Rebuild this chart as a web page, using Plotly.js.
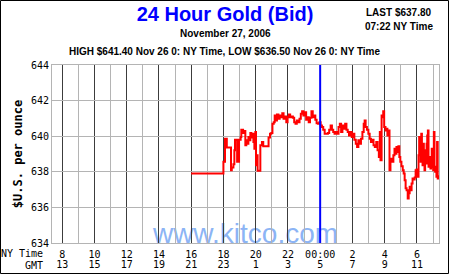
<!DOCTYPE html>
<html>
<head>
<meta charset="utf-8">
<script src="https://cdn.plot.ly/plotly-3.0.1.min.js"></script>
<style>html,body{margin:0;padding:0;background:#fff;}#chart{width:450px;height:275px;}</style>
</head>
<body>
<div id="chart"></div>
<script>
// NY time in hours since midnight Nov 26 (24 = 00:00 Nov 27)
const hours = [16.00,18.00,18.10,18.21,18.47,18.52,18.62,18.68,18.72,18.85,18.97,19.07,19.11,19.22,19.30,19.36,19.42,19.48,19.55,19.61,19.67,19.73,19.79,19.86,19.92,19.98,20.02,20.06,20.12,20.29,20.39,20.47,20.80,20.89,
20.97,21.04,21.12,21.18,21.24,21.32,21.41,21.49,21.57,21.65,21.73,21.82,21.90,21.98,22.06,22.14,22.23,22.31,22.39,22.47,22.55,22.64,22.72,22.80,22.88,22.96,23.05,23.13,23.21,23.29,23.37,23.46,23.54,23.62,23.70,23.78,23.87,23.95,
24.03,24.11,24.19,24.28,24.36,24.48,24.56,24.65,24.73,24.81,24.89,24.97,25.06,25.14,25.22,25.30,25.38,25.47,25.55,25.63,25.71,25.79,25.88,25.96,26.04,26.12,26.21,26.29,26.37,26.45,26.53,26.62,26.70,26.76,26.82,26.90,26.99,
27.07,27.15,27.23,27.31,27.39,27.48,27.56,27.64,27.70,27.74,27.81,27.87,27.91,27.97,28.05,28.11,28.17,28.24,28.30,28.36,28.42,28.48,28.54,28.61,28.67,28.73,28.79,28.85,28.91,28.97,29.04,29.12,29.18,29.24,29.30,29.36,29.43,
29.49,29.55,29.61,29.67,29.73,29.79,29.86,29.92,29.98,30.04,30.10,30.14,30.18,30.23,30.27,30.31,30.35,30.39,30.43,30.47,30.51,30.55,30.60,30.64,30.68,30.72,30.76,30.80,30.84,30.88,30.92,30.96,31.01,31.05,31.09,31.13,31.17,31.21,31.25,31.29,31.37];
const prices = [637.90,638.56,639.86,639.36,638.09,638.24,638.43,639.21,639.80,638.56,639.80,639.95,640.36,640.18,640.29,639.49,639.77,639.58,639.95,639.77,640.18,639.92,640.14,639.67,639.30,640.23,638.37,638.93,638.06,639.49,639.67,639.43,639.92,640.14,
640.18,640.70,640.79,641.16,640.88,641.22,640.98,641.16,641.07,641.29,640.98,641.11,640.79,641.07,641.22,641.07,641.11,641.03,640.79,640.70,640.88,640.79,640.98,641.26,641.40,641.16,641.35,640.92,641.07,640.79,641.03,641.40,641.07,641.16,640.92,640.73,640.70,640.79,
640.60,640.51,640.36,640.14,640.14,640.18,640.36,640.60,640.36,640.23,640.14,640.23,640.14,640.51,640.70,640.23,640.60,640.42,640.70,640.36,640.23,640.04,640.23,639.95,640.14,639.80,639.58,639.39,639.77,639.58,639.86,640.23,640.70,640.88,640.51,640.36,640.14,
639.86,639.67,639.80,639.49,639.39,639.67,639.21,638.83,640.23,638.65,641.16,641.07,641.40,640.51,640.32,640.42,640.04,640.32,638.09,638.56,638.74,638.56,638.93,639.30,639.02,639.39,639.11,639.43,638.83,638.56,638.31,638.09,637.90,637.53,637.07,636.97,636.50,
636.79,637.16,636.97,637.34,637.62,637.57,637.68,638.09,638.13,637.72,638.93,639.95,639.58,638.56,640.14,639.21,638.37,639.58,638.83,638.09,639.21,638.46,639.58,640.04,640.32,638.28,638.83,638.56,638.18,638.31,639.30,638.28,638.09,640.23,638.28,638.00,638.28,637.72,639.67,637.62,637.80];

const tickHours = [8,10,12,14,16,18,20,22,24,26,28,30];
const nyLabels  = ["8","10","12","14","16","18","20","22","00:00","2","4","6"];
const gmtLabels = ["13","15","17","19","21","23","1","3","5","7","9","11"];
const priceTicks = [634,636,638,640,642,644];
const hourRange = [7.37, 31.37];
const priceRange = [634, 644];
const midnight = 24;

const mono = "DejaVu Sans Mono, monospace";
const sans = "Liberation Sans, Arial, sans-serif";

const traces = [
  {x: hours, y: prices, type: 'scatter', mode: 'lines',
   line: {color: '#ff0000', width: 2, shape: 'hv'}, hoverinfo: 'skip', showlegend: false},
  {x: [], y: [], type: 'scatter', mode: 'lines', xaxis: 'x2', yaxis: 'y', showlegend: false, hoverinfo: 'skip'}
];

const layout = {
  width: 450, height: 275,
  margin: {l: 52, r: 11, t: 65, b: 32, pad: 0},
  paper_bgcolor: '#ffffff', plot_bgcolor: '#ffffff',
  showlegend: false,
  title: {text: '<b>24 Hour Gold (Bid)</b>', font: {family: sans, size: 20, color: '#0000ff'},
          xref: 'container', x: 0.5, xanchor: 'center', yref: 'container', y: 1 - 14/275, yanchor: 'middle'},
  xaxis: {range: hourRange, tickmode: 'array', tickvals: tickHours, ticktext: nyLabels,
          showgrid: true, gridcolor: '#3c3c3c', gridwidth: 1, zeroline: false,
          showline: true, mirror: true, linecolor: '#b4b4b4', linewidth: 1, ticks: '',
          tickfont: {family: mono, size: 10, color: '#000'}, ticklabelstandoff: 2,
          minor: {tickmode: 'linear', tick0: 0, dtick: 1, showgrid: true, gridcolor: '#b4b4b4', gridwidth: 1, ticks: ''},
          fixedrange: true},
  xaxis2: {range: hourRange, overlaying: 'x', anchor: 'y', side: 'bottom', tickmode: 'array',
           tickvals: tickHours, ticktext: gmtLabels, showgrid: false, zeroline: false, showline: false, ticks: '',
           tickfont: {family: mono, size: 10, color: '#000'}, ticklabelstandoff: 14, fixedrange: true},
  yaxis: {range: priceRange, tickmode: 'array', tickvals: priceTicks, showgrid: true, gridcolor: '#b4b4b4', gridwidth: 1,
          zeroline: false, showline: true, mirror: true, linecolor: '#b4b4b4', linewidth: 1, ticks: '',
          tickfont: {family: mono, size: 10, color: '#000'},
          title: {text: '<b>$U.S. per ounce</b>', font: {family: mono, size: 12, color: '#000'}, standoff: 5},
          fixedrange: true},
  shapes: [
    {type: 'rect', xref: 'paper', yref: 'paper', x0: 0.2, x1: 0.8, y0: -0.01, y1: 0.145,
     line: {width: 0}, fillcolor: 'rgba(0,0,0,0)', layer: 'below',
     label: {text: 'www.kitco.com', font: {family: sans, size: 28, color: '#8cb4f5'}, textposition: 'middle center'}},
    {type: 'line', xref: 'x', yref: 'paper', x0: midnight, x1: midnight, y0: 0, y1: 1,
     line: {color: '#0000ff', width: 2}, layer: 'above'},
    {type: 'rect', xref: 'paper', yref: 'paper', x0: (0.5-52)/387, x1: (448.5-52)/387, y0: (243-273.5)/178, y1: (243-0.5)/178,
     line: {color: '#000000', width: 1}, fillcolor: 'rgba(0,0,0,0)', layer: 'above'}
  ],
  annotations: [
    {text: '<b>November 27, 2006</b>', xref: 'paper', yref: 'paper', x: (225-52)/387, y: (243-33.5)/178,
     xanchor: 'center', yanchor: 'middle', showarrow: false, font: {family: sans, size: 10, color: '#000'}},
    {text: '<b>HIGH $641.40 Nov 26 0: NY Time, LOW $636.50 Nov 26 0: NY Time</b>', xref: 'paper', yref: 'paper',
     x: (224.5-52)/387, y: (243-51.5)/178, xanchor: 'center', yanchor: 'middle', showarrow: false,
     font: {family: sans, size: 10, color: '#000'}},
    {text: '<b>LAST $637.80</b>', xref: 'paper', yref: 'paper', x: (398-52)/387, y: (243-13)/178,
     xanchor: 'center', yanchor: 'middle', showarrow: false, font: {family: sans, size: 10, color: '#000'}},
    {text: '<b>07:22 NY Time</b>', xref: 'paper', yref: 'paper', x: (398.5-52)/387, y: (243-26.5)/178,
     xanchor: 'center', yanchor: 'middle', showarrow: false, font: {family: sans, size: 10, color: '#000'}},
    {text: 'NY Time', xref: 'paper', yref: 'paper', x: (45-52)/387, y: (243-253.5)/178,
     xanchor: 'right', yanchor: 'middle', showarrow: false, font: {family: mono, size: 10, color: '#000'}},
    {text: 'GMT', xref: 'paper', yref: 'paper', x: (45-52)/387, y: (243-265.5)/178,
     xanchor: 'right', yanchor: 'middle', showarrow: false, font: {family: mono, size: 10, color: '#000'}}
  ]
};

Plotly.newPlot('chart', traces, layout, {displayModeBar: false, staticPlot: true});
</script>
</body>
</html>
